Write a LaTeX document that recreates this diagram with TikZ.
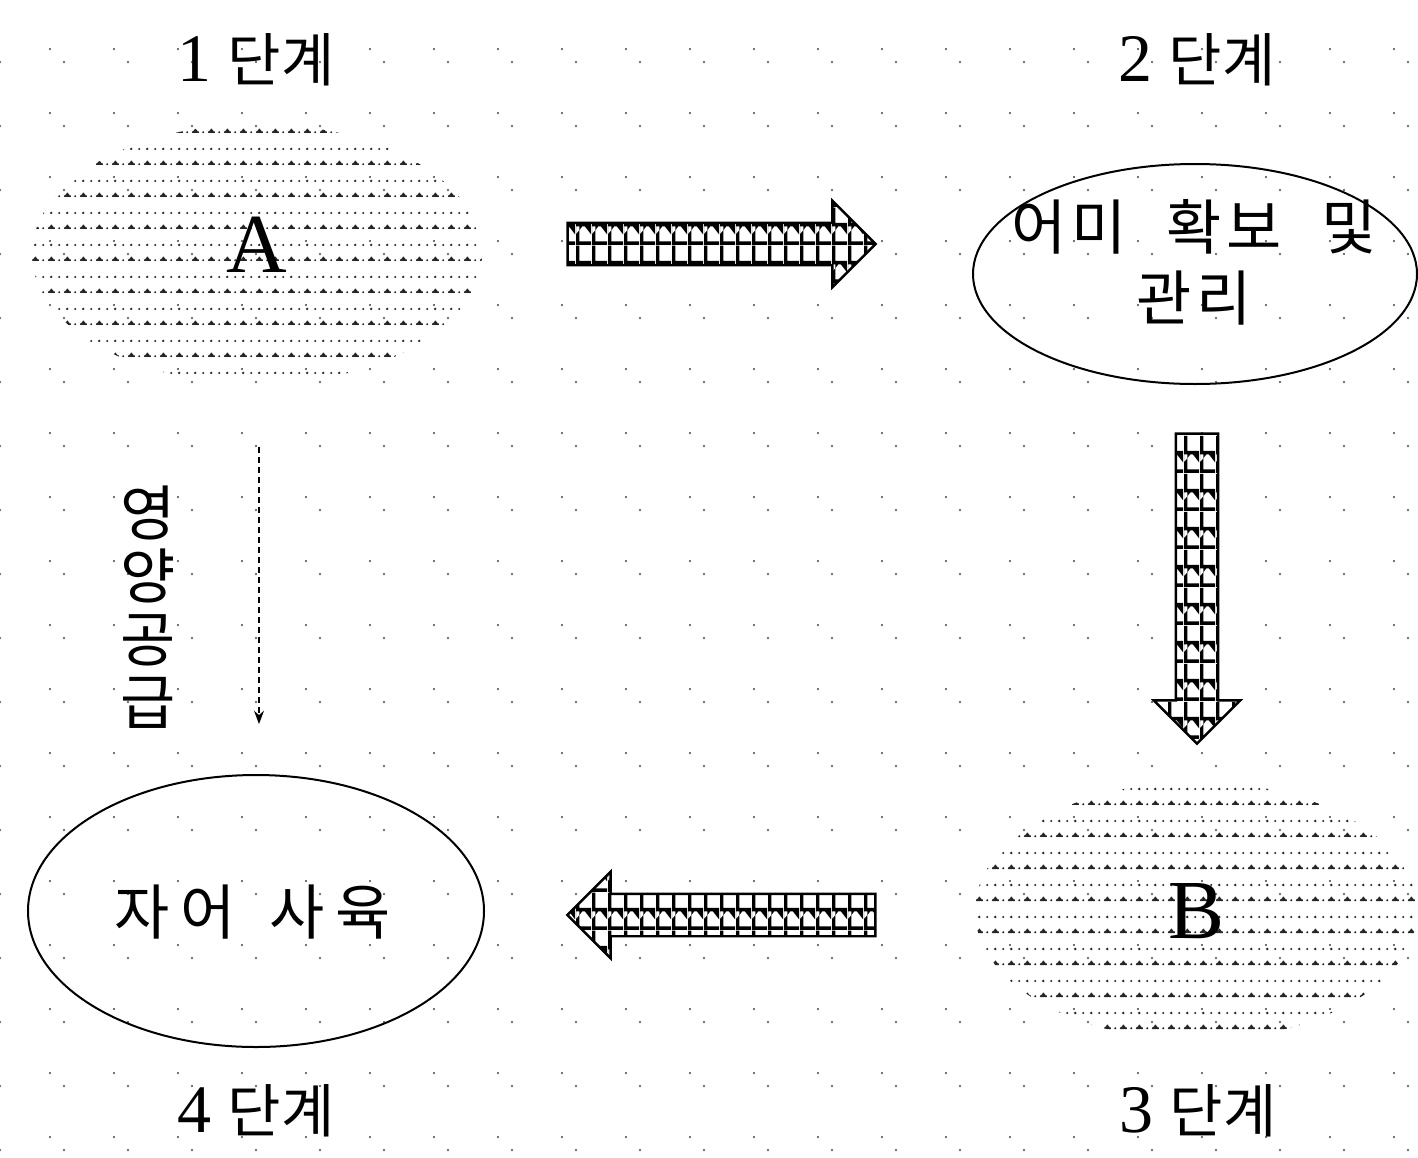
\documentclass[tikz,border=0pt]{standalone}
\usepackage{fontspec}
\setmainfont{Liberation Serif}
\newfontfamily\kr[WordSpace=2.2]{Noto Sans CJK KR}
\usepackage{tikz}
\usetikzlibrary{arrows.meta,shapes.geometric,shapes.arrows,patterns}

\newcommand{\stnum}[1]{{\fontsize{34}{36}\rmfamily #1}\hspace{8pt}}

% dotted fill of the A and B ellipses
\pgfdeclarepatternformonly{eggdots}{\pgfqpoint{-1pt}{-1pt}}{\pgfqpoint{9pt}{17pt}}{\pgfqpoint{8pt}{16pt}}{%
  \pgfpathrectangle{\pgfqpoint{0pt}{0pt}}{\pgfqpoint{3.4pt}{0.8pt}}%
  \pgfpathmoveto{\pgfqpoint{0.5pt}{0.8pt}}%
  \pgfpathlineto{\pgfqpoint{1.7pt}{2.3pt}}%
  \pgfpathlineto{\pgfqpoint{2.9pt}{0.8pt}}%
  \pgfpathclose
  \pgfpathcircle{\pgfqpoint{5.6pt}{0.4pt}}{0.55pt}%
  \pgfpathcircle{\pgfqpoint{1.6pt}{8pt}}{0.65pt}%
  \pgfpathcircle{\pgfqpoint{5.6pt}{8pt}}{0.55pt}%
  \pgfusepath{fill}%
}

% tiles inside the block arrows
\pgfdeclarepatternformonly{scaletiles}{\pgfqpoint{0pt}{0pt}}{\pgfqpoint{8pt}{19pt}}{\pgfqpoint{8pt}{19pt}}{%
  \pgfpathrectangle{\pgfqpoint{0pt}{0pt}}{\pgfqpoint{8pt}{1.8pt}}%
  \pgfpathrectangle{\pgfqpoint{0pt}{9.5pt}}{\pgfqpoint{8pt}{1.8pt}}%
  \pgfpathrectangle{\pgfqpoint{0pt}{0pt}}{\pgfqpoint{1.8pt}{19pt}}%
  \pgfpathmoveto{\pgfqpoint{0pt}{9.6pt}}\pgfpathlineto{\pgfqpoint{3.4pt}{9.6pt}}\pgfpathlineto{\pgfqpoint{0pt}{5.4pt}}\pgfpathclose
  \pgfpathmoveto{\pgfqpoint{8pt}{9.6pt}}\pgfpathlineto{\pgfqpoint{4.6pt}{9.6pt}}\pgfpathlineto{\pgfqpoint{8pt}{5.4pt}}\pgfpathclose
  \pgfusepath{fill}%
}

\begin{document}
\begin{tikzpicture}[
    x=0.5pt, y=-0.5pt,
    >=Stealth,
    griddot/.style={fill=black!75},
    stagelabel/.style={inner sep=0pt, font=\fontsize{29}{32}\kr},
    spotted/.style={ellipse, inner sep=0pt, pattern=eggdots, pattern color=black!85, font=\fontsize{42}{42}\selectfont},
    ringed/.style={ellipse, draw, line width=1pt, inner sep=0pt},
    bodytext/.style={inner sep=0pt, align=center, font=\fontsize{30}{35.5}\kr},
    blockarrow/.style={single arrow, draw, line width=1.2pt, inner sep=0pt, inner ysep=10pt,
      single arrow head extend=11pt, minimum height=154pt, pattern=scaletiles, preaction={fill=white}},
    feed/.style={->, dash pattern=on 3pt off 2pt, line width=0.8pt, shorten <=31.5pt, shorten >=25pt}
  ]
  \useasboundingbox (0,0) rectangle (1418,1157);

  % --- dotted paper ---
  \foreach \i in {0,...,22}
    \foreach \k in {0,...,17} {
      \fill[griddot] (50+64*\i,49+64*\k) circle (0.55pt);
      \fill[griddot] (64*\i,62+64*\k) circle (0.55pt);
    }

  % --- Stages ---
  \node[spotted, minimum width=225pt, minimum height=130pt, text depth=9pt] (A) at (257,254) {A};
  \node[ringed, minimum width=222pt, minimum height=110pt] (brood) at (1195,274) {};
  \node[bodytext, font=\fontsize{30}{35.5}\kr\addfontfeature{LetterSpace=8}] (broodtext) at (1194,262) {어미 확보 및\\관리};
  \node[spotted, minimum width=221pt, minimum height=129pt] (B) at (1196,911) {B};
  \node[ringed, minimum width=228pt, minimum height=136pt] (young) at (256,911) {};
  \node[bodytext, font=\fontsize{30}{35.5}\kr\addfontfeature{LetterSpace=18}] (youngtext) at (253,912) {자어\hspace{17pt}사육};

  \node[stagelabel] (s1) at (256,60) {\stnum{1}단계};
  \node[stagelabel] (s2) at (1197,60) {\stnum{2}단계};
  \node[stagelabel] (s3) at (1198,1111) {\stnum{3}단계};
  \node[stagelabel] (s4) at (256,1111) {\stnum{4}단계};

  % --- Block arrows ---
  \node[blockarrow] (toBrood) at (711,244) {};
  \node[blockarrow, rotate=-90, minimum height=155pt] (toB) at (1197,578) {};
  \node[blockarrow, rotate=180] (toYoung) at (732,915) {};

  % --- Nutrient feed ---
  \draw[feed] ([xshift=1pt]A.south) -- ([xshift=1.5pt]young.north);
  \node[font=\fontsize{30}{31.5}\kr, align=center, inner sep=0pt] (feedlabel) at (148,607) {영\\양\\공\\급};

\end{tikzpicture}
\end{document}
